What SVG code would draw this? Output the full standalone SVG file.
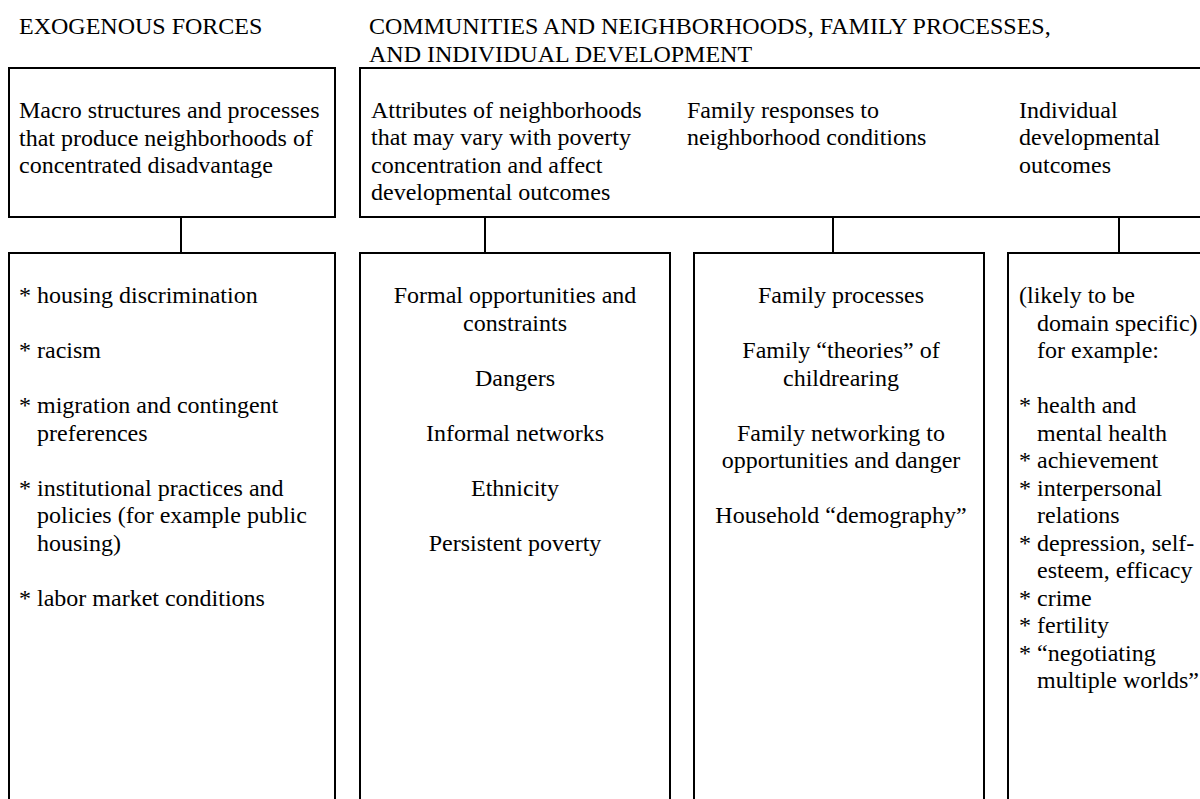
<svg xmlns="http://www.w3.org/2000/svg" width="1200" height="799" viewBox="0 0 1200 799">
  <style>
    text { font-family: "Liberation Serif", "Times New Roman", serif; font-size: 24px; fill: #000; }
    .mid { text-anchor: middle; }
    .box { fill: none; stroke: #000; stroke-width: 2; }
    .link { stroke: #000; stroke-width: 2; fill: none; }
  </style>
  <rect width="1200" height="799" fill="#fff"/>

  <!-- column headings -->
  <g id="heading-exogenous">
    <text x="19" y="34">EXOGENOUS FORCES</text>
  </g>
  <g id="heading-communities">
    <text x="369" y="34">COMMUNITIES AND NEIGHBORHOODS, FAMILY PROCESSES,</text>
    <text x="369" y="62">AND INDIVIDUAL DEVELOPMENT</text>
  </g>

  <!-- upper boxes -->
  <g id="macro-structures">
    <rect class="box" x="9" y="68" width="326" height="149"/>
    <text x="19" y="118">Macro structures and processes</text>
    <text x="19" y="145.5">that produce neighborhoods of</text>
    <text x="19" y="173">concentrated disadvantage</text>
  </g>
  <g id="community-header">
    <rect class="box" x="360" y="68" width="860" height="149"/>
    <text x="371" y="117.5">Attributes of neighborhoods</text>
    <text x="371" y="145">that may vary with poverty</text>
    <text x="371" y="172.5">concentration and affect</text>
    <text x="371" y="200">developmental outcomes</text>
    <text x="687" y="117.5">Family responses to</text>
    <text x="687" y="145">neighborhood conditions</text>
    <text x="1019" y="117.5">Individual</text>
    <text x="1019" y="145">developmental</text>
    <text x="1019" y="172.5">outcomes</text>
  </g>

  <!-- connectors between upper and lower boxes -->
  <g id="connectors">
    <line class="link" x1="181" y1="217" x2="181" y2="253"/>
    <line class="link" x1="485" y1="217" x2="485" y2="253"/>
    <line class="link" x1="833" y1="217" x2="833" y2="253"/>
    <line class="link" x1="1119" y1="217" x2="1119" y2="253"/>
  </g>

  <!-- lower boxes -->
  <g id="exogenous-list">
    <rect class="box" x="9" y="253" width="326" height="570"/>
    <text x="19" y="303">* housing discrimination</text>
    <text x="19" y="358">* racism</text>
    <text x="19" y="413">* migration and contingent</text>
    <text x="37" y="440.5">preferences</text>
    <text x="19" y="495.5">* institutional practices and</text>
    <text x="37" y="523">policies (for example public</text>
    <text x="37" y="550.5">housing)</text>
    <text x="19" y="605.5">* labor market conditions</text>
  </g>
  <g id="neighborhood-attributes">
    <rect class="box" x="360" y="253" width="310" height="570"/>
    <text class="mid" x="515" y="303">Formal opportunities and</text>
    <text class="mid" x="515" y="330.5">constraints</text>
    <text class="mid" x="515" y="385.5">Dangers</text>
    <text class="mid" x="515" y="440.5">Informal networks</text>
    <text class="mid" x="515" y="495.5">Ethnicity</text>
    <text class="mid" x="515" y="550.5">Persistent poverty</text>
  </g>
  <g id="family-responses">
    <rect class="box" x="694" y="253" width="290" height="570"/>
    <text class="mid" x="841" y="303">Family processes</text>
    <text class="mid" x="841" y="358">Family “theories” of</text>
    <text class="mid" x="841" y="385.5">childrearing</text>
    <text class="mid" x="841" y="440.5">Family networking to</text>
    <text class="mid" x="841" y="468">opportunities and danger</text>
    <text class="mid" x="841" y="523">Household “demography”</text>
  </g>
  <g id="developmental-outcomes">
    <rect class="box" x="1008" y="253" width="220" height="570"/>
    <text x="1019" y="303">(likely to be</text>
    <text x="1037" y="330.5">domain specific)</text>
    <text x="1037" y="358">for example:</text>
    <text x="1019" y="413">* health and</text>
    <text x="1037" y="440.5">mental health</text>
    <text x="1019" y="468">* achievement</text>
    <text x="1019" y="495.5">* interpersonal</text>
    <text x="1037" y="523">relations</text>
    <text x="1019" y="550.5">* depression, self-</text>
    <text x="1037" y="578">esteem, efficacy</text>
    <text x="1019" y="605.5">* crime</text>
    <text x="1019" y="633">* fertility</text>
    <text x="1019" y="660.5">* “negotiating</text>
    <text x="1037" y="688">multiple worlds”</text>
  </g>
</svg>
